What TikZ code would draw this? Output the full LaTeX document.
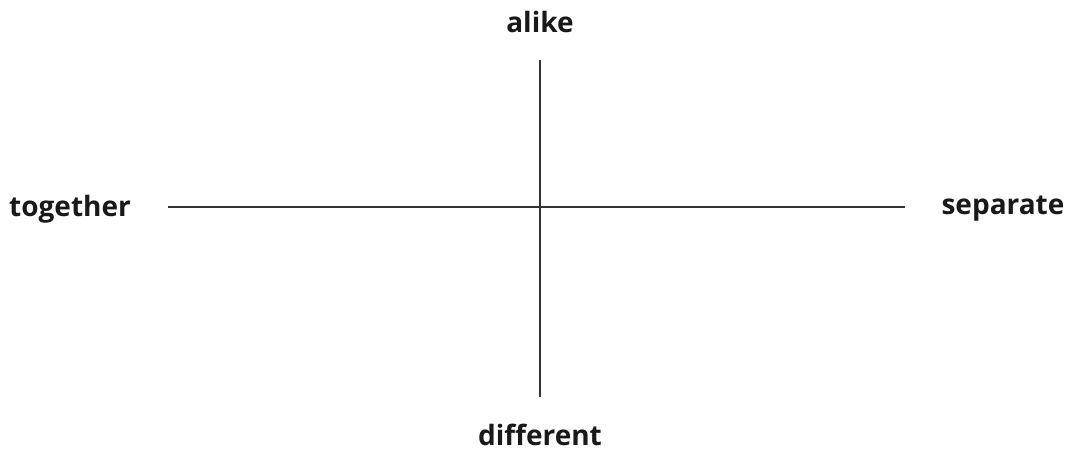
\documentclass[tikz,border=0pt]{standalone}
\usepackage{fontspec}
\setmainfont{Open Sans}
\begin{document}
\begin{tikzpicture}[x=1pt,y=-1pt,
  lbl/.style={font=\fontsize{28}{32}\selectfont\bfseries, text=black!90, inner sep=0pt},
  axis/.style={draw=black!80, line width=1.3pt}]
\useasboundingbox (0,0) rectangle (1069,451);
\node[lbl] (alike) at (540,22) {alike};
\node[lbl] (different) at (540,435) {different};
\node[lbl] (together) at (70,209) {together};
\node[lbl] (separate) at (1003,209) {separate};
\coordinate (top) at (540,60);
\coordinate (bot) at (540,397);
\coordinate (left) at (168,207);
\coordinate (right) at (905,207);
\draw[axis] (top) -- (bot);
\draw[axis] (left) -- (right);
\end{tikzpicture}
\end{document}
